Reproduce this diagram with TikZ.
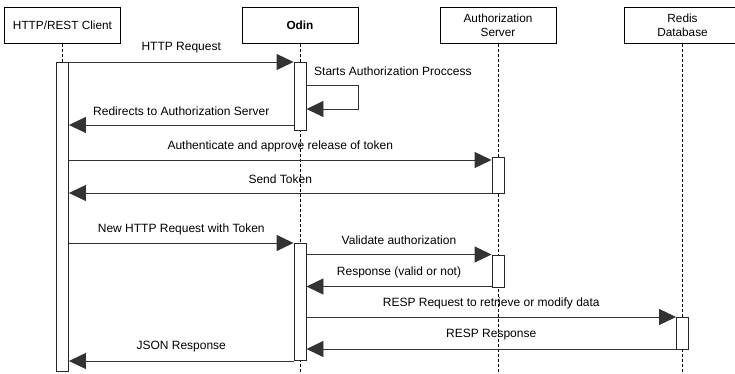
\documentclass[tikz,border=0pt]{standalone}
\usepackage{fontspec}
\setmainfont{Liberation Sans}
\usetikzlibrary{arrows.meta}
\tikzset{
  actor/.style={draw=black, line width=0.9pt, fill=white, minimum width=116pt, minimum height=36pt, inner sep=0pt, align=center, anchor=north, font=\fontsize{11.8}{13.5}\selectfont},
  actbar/.style={draw=black!85, line width=0.9pt, fill=white, minimum width=12pt, inner sep=0pt, anchor=north},
  lifeline/.style={draw=black, line width=0.6pt, dash pattern=on 3pt off 2pt},
  msg/.style={draw=black!80, line width=0.9pt, -{Triangle[length=17pt,width=16pt]}},
  lbl/.style={midway, yshift=14pt, font=\fontsize{12}{13.5}\selectfont, inner sep=0pt},
}
\begin{document}
\begin{tikzpicture}[x=1pt,y=-1pt]
\useasboundingbox (0,0) rectangle (735,374);
\fill[white] (0,0) rectangle (735,374);
% actor boxes
\node[actor] (client) at (62.5,7) {HTTP/REST Client};
\node[actor] (odin) at (300,7) {\textbf{Odin}};
\node[actor] (auth) at (498,7) {Authorization\\Server};
\node[actor] (redis) at (682.5,7) {Redis\\Database};
% lifeline ends
\coordinate (clientend) at (62.5,374);
\coordinate (odinend) at (300,374);
\coordinate (authend) at (498,372);
\coordinate (redisend) at (682.5,372);
\draw[lifeline] (client.south) -- (clientend);
\draw[lifeline] (odin.south) -- (odinend);
\draw[lifeline] (auth.south) -- (authend);
\draw[lifeline] (redis.south) -- (redisend);
% activation bars
\node[actbar, minimum height=309pt] (cb) at (62.5,62) {};
\node[actbar, minimum height=68pt] (ob1) at (300,62) {};
\node[actbar, minimum height=117pt] (ob2) at (300,243) {};
\node[actbar, minimum height=36pt] (ab1) at (498,157) {};
\node[actbar, minimum height=32pt] (ab2) at (498,254.5) {};
\node[actbar, minimum height=32pt] (rb) at (682.5,317) {};
% messages
\draw[msg] (cb.east |- 0,62) -- node[lbl]{HTTP Request} (ob1.west |- 0,62);
\coordinate (selfa) at (358,85);
\coordinate (selfb) at (358,109);
\draw[msg] (ob1.east |- selfa) -- (selfa) -- (selfb) -- (ob1.east |- selfb);
\node[anchor=west, font=\fontsize{12}{13.5}\selectfont, inner sep=0pt] (selflbl) at (314,71) {Starts Authorization Proccess};
\draw[msg] (ob1.west |- 0,125) -- node[lbl]{Redirects to Authorization Server} (cb.east |- 0,125);
\draw[msg] (cb.east |- 0,160) -- node[lbl]{Authenticate and approve release of token} (ab1.west |- 0,160);
\draw[msg] (ab1.west |- 0,193) -- node[lbl]{Send Token} (cb.east |- 0,193);
\draw[msg] (cb.east |- 0,243) -- node[lbl]{New HTTP Request with Token} (ob2.west |- 0,243);
\draw[msg] (ob2.east |- 0,254.5) -- node[lbl]{Validate authorization} (ab2.west |- 0,254.5);
\draw[msg] (ab2.west |- 0,286.5) -- node[lbl]{Response (valid or not)} (ob2.east |- 0,286.5);
\draw[msg] (ob2.east |- 0,317) -- node[lbl]{RESP Request to retrieve or modify data} (rb.west |- 0,317);
\draw[msg] (rb.west |- 0,349) -- node[lbl]{RESP Response} (ob2.east |- 0,349);
\draw[msg] (ob2.west |- 0,361) -- node[lbl]{JSON Response} (cb.east |- 0,361);
\end{tikzpicture}
\end{document}
